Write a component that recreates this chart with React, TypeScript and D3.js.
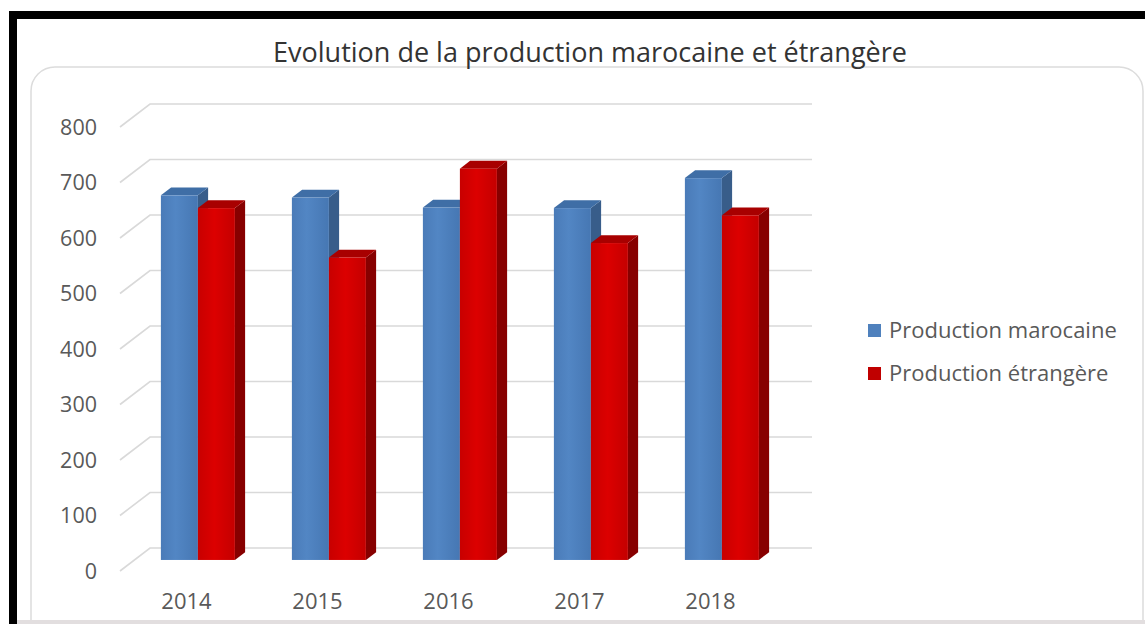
import React from 'react';
import * as d3 from 'd3';

const years = ['2014', '2015', '2016', '2017', '2018'];
const marocaine = [657, 653, 635, 634, 688];
const etrangere = [634, 545, 705, 571, 621];
const yTicks = [0, 100, 200, 300, 400, 500, 600, 700, 800];
const seriesNames = ['Production marocaine', 'Production étrangère'];

const W = 1145;
const H = 624;
// oblique projection of the 3D wall: depth 0 = back wall, 1 = front edge
const DX = -30;
const DY = 23;
const Z_FRONT = 0.52;
const Z_BACK = 0.18;

const palette = [
  { front: 'url(#gBlue)', side: '#385d8a', top: '#3f6ea6' },
  { front: 'url(#gRed)', side: '#870000', top: '#a80000' },
];

const font = '"Open Sans", "Noto Sans", sans-serif';

const App: React.FC = () => {
  const y = d3.scaleLinear().domain([0, 800]).range([548, 104]);
  const x = d3.scaleBand<string>().domain(years).range([148, 803]);
  const groupW = x.bandwidth() * 0.565;
  const xs = d3.scaleBand<number>().domain([0, 1]).range([0, groupW]);
  const wallLeft = 150;
  const wallRight = 812;

  const P = (px: number, v: number, z: number): [number, number] => [px + DX * z, y(v) + DY * z];
  const poly = (pts: [number, number][]) => pts.map(p => p.join(',')).join(' ');

  const series = [marocaine, etrangere];

  return (
    <svg width={W} height={H} style={{ position: 'absolute', left: 0, top: 0, background: '#fff' }}>
      <defs>
        <linearGradient id="gBlue" x1="0" x2="1" y1="0" y2="0">
          <stop offset="0" stopColor="#4a7bb8" />
          <stop offset="0.4" stopColor="#5286c4" />
          <stop offset="1" stopColor="#4677b3" />
        </linearGradient>
        <linearGradient id="gRed" x1="0" x2="1" y1="0" y2="0">
          <stop offset="0" stopColor="#c80000" />
          <stop offset="0.45" stopColor="#dc0000" />
          <stop offset="1" stopColor="#c40000" />
        </linearGradient>
      </defs>

      <rect x={0} y={0} width={W} height={H} fill="#fff" />
      {/* chart area */}
      <rect x={31} y={67} width={1112} height={620} rx={24} fill="#fff" stroke="#dcdcdc" strokeWidth={1.5} />
      <rect x={17} y={620} width={W - 17} height={4} fill="#e2dedf" />

      {/* title */}
      <text x={590} y={62} textAnchor="middle" fontFamily={font} fontSize={27} fill="#333">
        Evolution de la production marocaine et étrangère
      </text>

      {/* gridlines: back wall + side wall */}
      {yTicks.map(t => {
        const [fx, fy] = P(wallLeft, t, 1);
        return (
          <g key={t}>
            <polyline
              points={poly([[fx, fy], [wallLeft, y(t)], [wallRight, y(t)]])}
              fill="none"
              stroke="#d9d9d9"
              strokeWidth={1.6}
            />
            <text x={97} y={fy} dy="0.35em" textAnchor="end" fontFamily={font} fontSize={21.5} fill="#595959">
              {t}
            </text>
          </g>
        );
      })}

      {/* bars */}
      {years.map((yr, i) => {
        const g0 = (x(yr) as number) + (x.bandwidth() - groupW) / 2;
        return (
          <g key={yr}>
            {series.map((vals, s) => {
              const v = vals[i];
              const x0 = g0 + (xs(s) as number);
              const x1 = x0 + xs.bandwidth();
              const c = palette[s];
              const fTL = P(x0, v, Z_FRONT);
              const fBR = P(x1, 0, Z_FRONT);
              return (
                <g key={s}>
                  <polygon
                    points={poly([P(x1, v, Z_FRONT), P(x1, v, Z_BACK), P(x1, 0, Z_BACK), P(x1, 0, Z_FRONT)])}
                    fill={c.side}
                  />
                  <polygon
                    points={poly([P(x0, v, Z_FRONT), P(x0, v, Z_BACK), P(x1, v, Z_BACK), P(x1, v, Z_FRONT)])}
                    fill={c.top}
                  />
                  <rect x={fTL[0]} y={fTL[1]} width={fBR[0] - fTL[0]} height={fBR[1] - fTL[1]} fill={c.front} />
                </g>
              );
            })}
            <text
              x={(x(yr) as number) + x.bandwidth() / 2 + DX * 0.9}
              y={609}
              textAnchor="middle"
              fontFamily={font}
              fontSize={22}
              fill="#595959"
            >
              {yr}
            </text>
          </g>
        );
      })}

      {/* legend */}
      {seriesNames.map((name, s) => (
        <g key={name} transform={`translate(868, ${324 + s * 43})`}>
          <rect x={0} y={0} width={13} height={13} fill={s === 0 ? '#4f81bd' : '#c00000'} />
          <text x={21} y={6.5} dy="0.36em" fontFamily={font} fontSize={22} fill="#595959">
            {name}
          </text>
        </g>
      ))}

      {/* black frame */}
      <rect x={9} y={11} width={W - 9} height={8} fill="#000" />
      <rect x={9} y={11} width={8} height={H - 11} fill="#000" />
    </svg>
  );
};

export default App;
